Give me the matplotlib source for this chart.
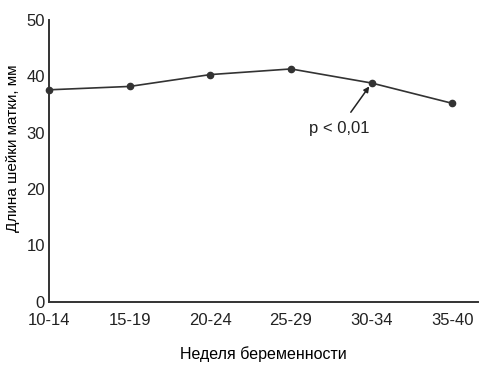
import matplotlib.pyplot as plt
from matplotlib import font_manager

weeks = ['10-14', '15-19', '20-24', '25-29', '30-34', '35-40']
length_mm = [37.6, 38.2, 40.3, 41.3, 38.8, 35.2]

names = {f.name for f in font_manager.fontManager.ttflist}
fam = 'Liberation Sans Narrow' if 'Liberation Sans Narrow' in names else 'Liberation Sans'
plt.rcParams['font.family'] = [fam, 'DejaVu Sans']

fig = plt.figure(figsize=(4.95, 3.75), dpi=100)
ax = fig.add_axes([0.099, 0.195, 0.867, 0.752])

x = list(range(len(weeks)))
ax.plot(x, length_mm, color='#333333', lw=1.2, marker='o', ms=4.5, clip_on=False, zorder=3)

ax.set_xlim(0, 5.32)
ax.set_ylim(0, 50)
ax.set_xticks(x)
ax.set_xticklabels(weeks, fontsize=12)
ax.set_yticks(range(0, 51, 10))
ax.tick_params(axis='both', length=0, labelsize=12, colors='#222222')
ax.tick_params(axis='x', pad=8)
ax.tick_params(axis='y', pad=3)
for s in ['top', 'right']:
    ax.spines[s].set_visible(False)
for s in ['left', 'bottom']:
    ax.spines[s].set_color('#333333')
    ax.spines[s].set_linewidth(1.4)

ax.set_ylabel('Длина шейки матки, мм', fontsize=11)
ax.yaxis.set_label_coords(-0.068, 0.543)
ax.set_xlabel('Неделя беременности', fontsize=11.5, labelpad=13)

ax.annotate('p < 0,01', xy=(4, length_mm[4]), xytext=(3.6, 30.8),
            fontsize=12, ha='center', va='center', color='#222222',
            arrowprops=dict(arrowstyle='-|>', color='#222222', lw=1.1,
                            shrinkA=5, shrinkB=3, mutation_scale=8))

fig.savefig('out.png', dpi=100)
